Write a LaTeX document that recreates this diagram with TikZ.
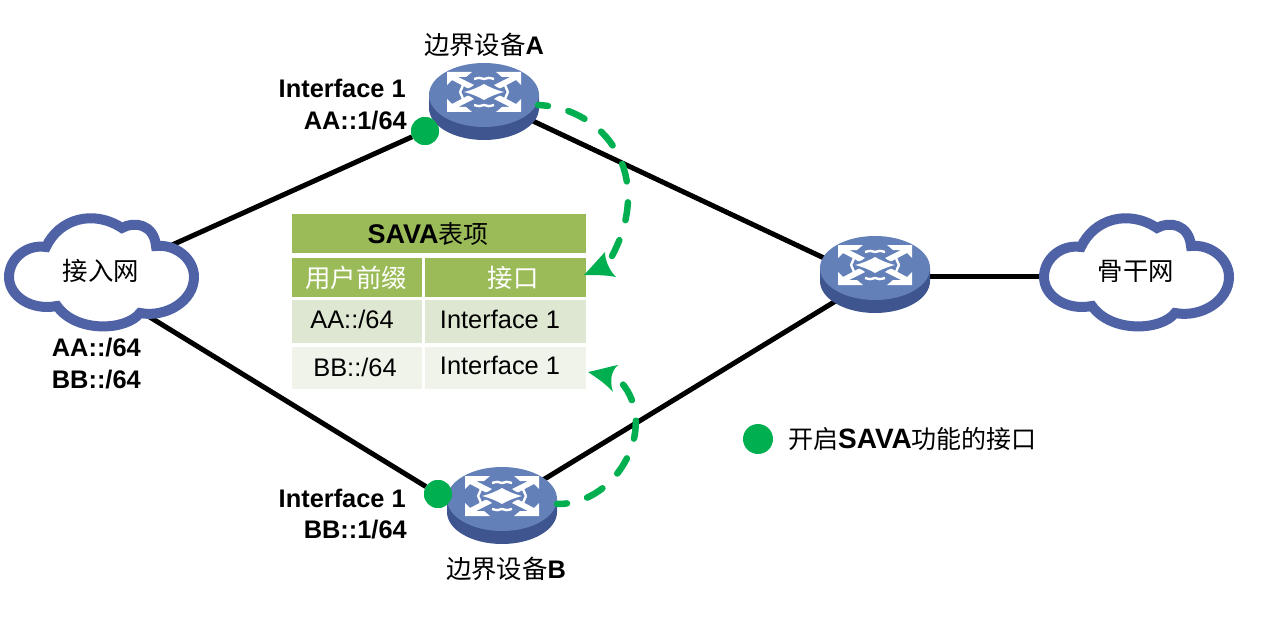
\documentclass[tikz,border=0pt]{standalone}
\usepackage{fontspec}
\setmainfont{Liberation Sans}
\newfontfamily\cjk{Noto Sans CJK SC}
\usetikzlibrary{arrows.meta}
\definecolor{cloudblue}{HTML}{4F62A6}
\definecolor{rtop}{HTML}{6480B8}
\definecolor{rside}{HTML}{3E5590}
\definecolor{savagreen}{HTML}{00B050}
\definecolor{thead}{HTML}{9BBB59}
\definecolor{trowa}{HTML}{DEE7D1}
\definecolor{trowb}{HTML}{EFF3EA}
\newcommand{\routerpic}[1]{%
  \begin{scope}[shift={(#1)}]
    \fill[rside] (-55,3) -- (-55,16) arc[start angle=180,end angle=0,x radius=55,y radius=32] -- (55,3) -- cycle;
    \fill[rtop] (0,3) ellipse[x radius=55,y radius=32];
    \foreach \sx/\sy in {1/1,-1/1,1/-1,-1/-1}{
      \begin{scope}[xscale=\sx,yscale=\sy]
        \fill[white] (37,-20) -- (12,-20) -- (18,-15) -- (26,-15) -- (10,-7) -- (15,-3) -- (32,-12) -- (37,-7) -- cycle;
        \draw[white,line width=2.4pt] (0,-13) .. controls (3,-15) and (6,-14) .. (10,-13);
        \draw[white,line width=2.4pt] (24,0) .. controls (23,-2) and (22,-4) .. (21,-7);
        \draw[rtop,line width=1.6pt] (0,-10) .. controls (6,-9) and (12,-3) .. (21,-1);
      \end{scope}
    }
    \fill[white] (0,-8) .. controls (5,-5) and (12,-2) .. (20,0)
       .. controls (12,2) and (5,5) .. (0,8)
       .. controls (-5,5) and (-12,2) .. (-20,0)
       .. controls (-12,-2) and (-5,-5) .. (0,-8) -- cycle;
  \end{scope}}
\newcommand{\cloudpic}[1]{%
  \begin{scope}[shift={(#1)}]
    \draw[cloudblue,line width=10pt,fill=white]
      (-55,-24) .. controls (-42,-52) and (-8,-62) .. (21,-43)
      .. controls (33,-50) and (53,-47) .. (55,-25)
      .. controls (75,-27) and (93,-12) .. (93,6)
      .. controls (93,30) and (65,47) .. (39,42)
      .. controls (25,60) and (-25,62) .. (-44,35)
      .. controls (-70,40) and (-92,25) .. (-92,6)
      .. controls (-92,-12) and (-75,-27) .. (-55,-24) -- cycle;
  \end{scope}}
\tikzset{
  link/.style={line width=5pt,black},
  lbl/.style={font=\fontsize{25.4}{25.4}\selectfont\bfseries,inner sep=0pt,anchor=base east},
  txt/.style={font=\fontsize{25.4}{25.4}\selectfont,inner sep=0pt,anchor=base},
  dot/.style={circle,fill=savagreen,inner sep=0pt,minimum size=28pt},
  flow/.style={savagreen,line width=6.5pt,dash pattern=on 18pt off 21pt,dash phase=8pt,line cap=round},
  flowtip/.style={fill=savagreen,draw=none}
}
\begin{document}
\begin{tikzpicture}[x=1pt,y=-1pt]
\useasboundingbox (0,0) rectangle (1263,623);
\coordinate (ca) at (172,245);
\coordinate (cc) at (148,316);
\coordinate (cd) at (1040,276);
\coordinate (rar) at (484,98);
\coordinate (rbc) at (502,505);
\coordinate (rce) at (875,276);
\coordinate (rcw) at (875,282);
\coordinate (rcs) at (875,277);
\node[dot] (da) at (425,131) {};
\node[dot] (db) at (438,494) {};
% links
\draw[link] (ca) -- (da);
\draw[link] (rar) -- (rcw);
\draw[link] (cc) -- (db);
\draw[link] (rbc) -- (rcs);
\draw[link] (rce) -- (cd);
% clouds
\cloudpic{101,271}
\cloudpic{1136,271}
\node[txt,anchor=center] (tca) at (101,271) {\cjk 接入网};
\node[txt,anchor=center] (tcb) at (1136,271) {\cjk 骨干网};
% routers
\routerpic{484,92}
\routerpic{502,496}
\routerpic{875,265}
\node[dot] (da2) at (425,131) {};
\node[dot] (db2) at (438,494) {};
\node[txt] (na) at (484,55) {{\cjk 边界设备}\textbf{A}};
\node[txt] (nb) at (506,578) {{\cjk 边界设备}\textbf{B}};
\node[lbl] (ia1) at (406,98) {Interface 1};
\node[lbl] (ia2) at (407,129) {AA::1/64};
\node[lbl] (ib1) at (406,507) {Interface 1};
\node[lbl] (ib2) at (407,538) {BB::1/64};
\node[lbl] (pa) at (141,356) {AA::/64};
\node[lbl] (pb) at (141,388) {BB::/64};
% table
\fill[thead] (292,214) rectangle (586,253);
\fill[thead] (292,258) rectangle (422,297);
\fill[thead] (424.5,258) rectangle (586,297);
\fill[trowa] (292,300) rectangle (422,343);
\fill[trowa] (424.5,300) rectangle (586,343);
\fill[trowb] (292,347) rectangle (422,389);
\fill[trowb] (424.5,347) rectangle (586,389);
\node[txt] (th) at (428,243) {\fontsize{27}{27}\selectfont\textbf{SAVA}\fontsize{25}{25}\selectfont{\cjk 表项}};
\node[txt,white] (h1) at (356,287) {\cjk 用户前缀};
\node[txt,white] (h2) at (513,287) {\cjk 接口};
\node[txt] (a1) at (352,328) {AA::/64};
\node[txt] (a2) at (500,328) {Interface 1};
\node[txt] (b1) at (355,376) {BB::/64};
\node[txt] (b2) at (500,374) {Interface 1};
% flows
\coordinate (fa) at (538,105);
\coordinate (ta) at (612,256);
\coordinate (fb) at (557,504);
\coordinate (tb) at (617,378);
\draw[flow] (fa) .. controls (605,108) and (655,175) .. (ta);
\fill[flowtip] (584,275) -- (605,252) .. controls (605,260) and (609,270) .. (616,277) .. controls (606,275) and (595,275) .. cycle;
\draw[flow] (fb) .. controls (620,505) and (662,420) .. (tb);
\fill[flowtip] (588,372) .. controls (598,370) and (608,367) .. (618,365) .. controls (612,370) and (609,380) .. (613,392) .. controls (606,384) and (597,378) .. cycle;
% legend
\node[dot,minimum size=30pt] (ld) at (758,439) {};
\node[txt,anchor=base west] (lt) at (788,448) {\fontsize{25}{25}\selectfont{\cjk 开启}\fontsize{28}{28}\selectfont\textbf{SAVA}\fontsize{25}{25}\selectfont{\cjk 功能的接口}};
\end{tikzpicture}
\end{document}
